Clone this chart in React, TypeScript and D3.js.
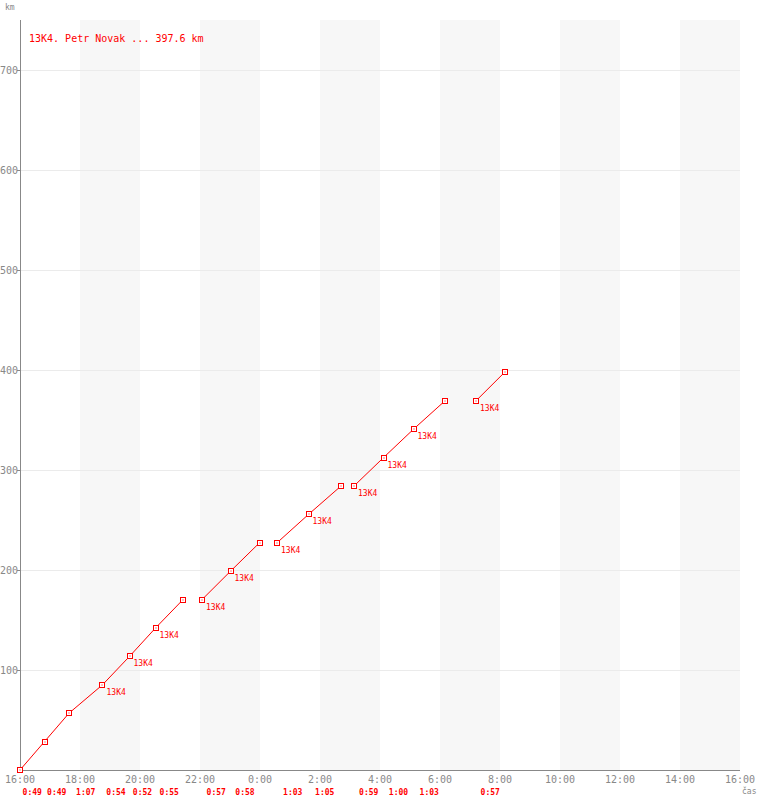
import React from "react";
import * as d3 from "d3";

const pointTimes = ["16:00","16:49","17:38","18:45","19:39","20:31","21:26","22:04","23:01","23:59","0:34","1:37","2:42","3:08","4:07","5:07","6:10","7:12","8:09"];
const distances = [0,28.4,56.8,85.2,113.6,142,170.4,170.4,198.8,227.2,227.2,255.6,284,284,312.4,340.8,369.2,369.2,397.6];
const labeled = [false,false,false,true,true,true,false,true,true,false,true,true,false,true,true,true,false,true,false];
const groups = [[0,6],[7,9],[10,12],[13,16],[17,18]];
const durations = ["0:49","0:49","1:07","0:54","0:52","0:55","0:57","0:58","1:03","1:05","0:59","1:00","1:03","0:57"];
const pilotLabel = "13K4";
const title = "13K4. Petr Novak ... 397.6 km";
const yTicks = [100,200,300,400,500,600,700];

const W = 760, H = 800;
const left = 20, right = 740, top = 20, bottom = 770;
const start = new Date(2000, 0, 1, 16, 0);
const end = new Date(2000, 0, 2, 16, 0);

function toDate(s: string): Date {
  const [h, m] = s.split(":").map(Number);
  const day = h >= 16 ? 1 : 2;
  return new Date(2000, 0, day, h, m);
}

export default function App() {
  const x = d3.scaleTime().domain([start, end]).range([left, right]);
  const y = d3.scaleLinear().domain([0, 750]).range([bottom, top]);
  const pts = pointTimes.map((t, i) => ({ x: x(toDate(t)), y: y(distances[i]), lab: labeled[i] }));
  const xTicks = x.ticks(d3.timeHour.every(2)!);
  const fmt = d3.timeFormat("%-H:%M");
  const bands: [Date, Date][] = [];
  for (let i = 0; i < xTicks.length - 1; i++) {
    if (i % 2 === 1) bands.push([xTicks[i], xTicks[i + 1]]);
  }
  const line = d3.line<{ x: number; y: number }>().x(d => d.x).y(d => d.y);
  const segs: { a: number; b: number }[] = [];
  groups.forEach(([s, e]) => { for (let i = s; i < e; i++) segs.push({ a: i, b: i + 1 }); });
  const mono = "'DejaVu Sans Mono', monospace";
  return (
    <svg width={W} height={H} style={{ position: "absolute", left: 0, top: 0, background: "#fff" }}>
      {bands.map((b, i) => (
        <rect key={i} x={x(b[0])} y={top} width={x(b[1]) - x(b[0])} height={bottom - top} fill="#f7f7f7" />
      ))}
      {yTicks.map(v => (
        <g key={v}>
          <line x1={left} x2={right} y1={y(v)} y2={y(v)} stroke="#ebebeb" shapeRendering="crispEdges" />
          <line x1={left - 3} x2={left} y1={y(v)} y2={y(v)} stroke="#888" shapeRendering="crispEdges" />
          <text x={left - 2} y={y(v) + 4} textAnchor="end" fontFamily={mono} fontSize={10} fill="#888">{v}</text>
        </g>
      ))}
      <line x1={left} x2={left} y1={top} y2={bottom} stroke="#888" shapeRendering="crispEdges" />
      <line x1={left} x2={right} y1={bottom} y2={bottom} stroke="#888" shapeRendering="crispEdges" />
      {xTicks.map((t, i) => (
        <text key={i} x={x(t)} y={bottom + 13} textAnchor="middle" fontFamily={mono} fontSize={10} fill="#888">{fmt(t)}</text>
      ))}
      <text x={5} y={10} fontFamily={mono} fontSize={8} fill="#888">km</text>
      <text x={742} y={794} fontFamily={mono} fontSize={8} fill="#888">čas</text>
      <text x={29} y={42} fontFamily={mono} fontSize={10} fill="red">{title}</text>
      {groups.map(([s, e], i) => (
        <path key={i} d={line(pts.slice(s, e + 1)) || ""} fill="none" stroke="red" strokeWidth={1} />
      ))}
      {segs.map((sg, i) => (
        <text key={i} x={(pts[sg.a].x + pts[sg.b].x) / 2} y={795} textAnchor="middle" fontFamily={mono} fontSize={8} fontWeight="bold" fill="red">{durations[i]}</text>
      ))}
      {pts.map((p, i) => (
        <g key={i}>
          <rect x={Math.round(p.x) - 2.5} y={Math.round(p.y) - 2.5} width={5} height={5} fill="#fff" stroke="red" strokeWidth={1.2} shapeRendering="crispEdges" />
          <rect x={Math.round(p.x) - 0.5} y={Math.round(p.y) - 0.5} width={1} height={1} fill="red" />
          {p.lab && (
            <text x={p.x + 4} y={p.y + 10} fontFamily={mono} fontSize={8} fill="red">{pilotLabel}</text>
          )}
        </g>
      ))}
    </svg>
  );
}
